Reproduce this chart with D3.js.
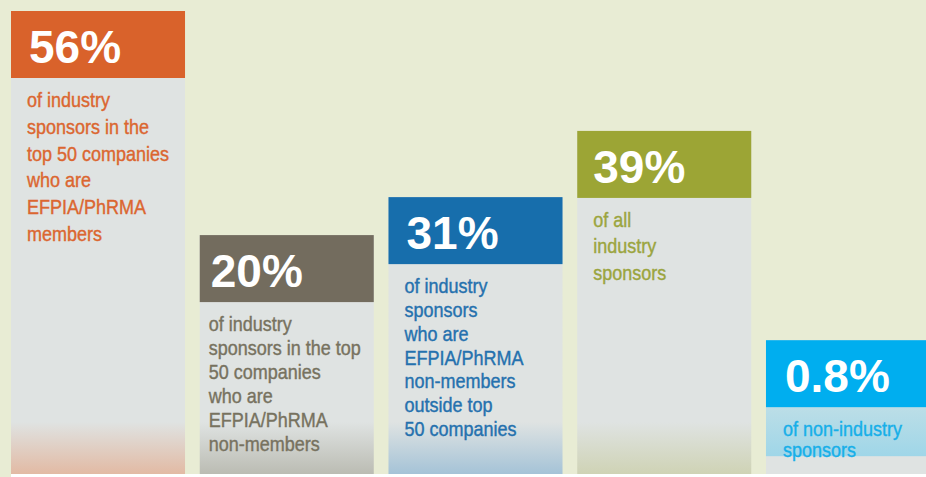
<!DOCTYPE html>
<html>
<head>
<meta charset="utf-8">
<script src="https://cdn.jsdelivr.net/npm/d3@7"></script>
<style>
  html, body { margin: 0; padding: 0; background: #e8ecd4; }
  svg { display: block; }
</style>
</head>
<body>
<script>
// share of sponsors, as printed on each bar
const categories = ["top50Members", "top50NonMembers", "nonMembersOutside", "allIndustry", "nonIndustry"];
const values = [56, 20, 31, 39, 0.8];
const valueLabels = ["56%", "20%", "31%", "39%", "0.8%"];
// bar heights of the infographic (not to scale with the values), % of the plot height
const barHeights = [100, 51.6, 59.8, 74.1, 28.9];
const descriptions = [
  ["of industry", "sponsors in the", "top 50 companies", "who are", "EFPIA/PhRMA", "members"],
  ["of industry", "sponsors in the top", "50 companies", "who are", "EFPIA/PhRMA", "non-members"],
  ["of industry", "sponsors", "who are", "EFPIA/PhRMA", "non-members", "outside top", "50 companies"],
  ["of all", "industry", "sponsors"],
  ["of non-industry", "sponsors"]
];

// styling, one entry per bar
const headColors = ["#d9622b", "#736c5e", "#176eac", "#9ca535", "#00aeef"];
const textColors = ["#db6630", "#77725f", "#2571ae", "#9ba53e", "#17afe8"];
const fadeColors = ["#e2baa4", "#bbbcb3", "#a5c3d7", "#cfd3b5", "#dfe3e2"];
const lineGaps = [26.8, 24, 23.8, 26.5, 21];
const headInset = [18, 11, 18, 16, 19];
const textInset = [16, 9, 16, 16, 17];

const W = 926, H = 477;
const plotTop = 11, plotBottom = 474, headH = 67;

const svg = d3.select("body").append("svg").attr("width", W).attr("height", H);

const x = d3.scaleBand().domain(categories).range([11, 940]).paddingInner(0.078).paddingOuter(0);
const y = d3.scaleLinear().domain([0, 100]).range([plotBottom, plotTop]);

const defs = svg.append("defs");
categories.forEach((c, i) => {
  const g = defs.append("linearGradient")
    .attr("id", "fade" + i)
    .attr("gradientUnits", "userSpaceOnUse")
    .attr("x1", 0).attr("x2", 0).attr("y1", 422).attr("y2", plotBottom);
  g.append("stop").attr("offset", 0).attr("stop-color", "#dfe3e2");
  g.append("stop").attr("offset", 1).attr("stop-color", fadeColors[i]);
});
const band = defs.append("linearGradient").attr("id", "band")
  .attr("x1", 0).attr("x2", 0).attr("y1", 0).attr("y2", 1);
band.append("stop").attr("offset", 0).attr("stop-color", "#bcdee7");
band.append("stop").attr("offset", 1).attr("stop-color", "#9fd6e8");

const bars = svg.selectAll("g.bar")
  .data(categories)
  .join("g")
  .attr("class", "bar")
  .attr("transform", d => `translate(${x(d)},0)`);

// body
bars.append("rect")
  .attr("y", (d, i) => y(barHeights[i]))
  .attr("width", x.bandwidth())
  .attr("height", (d, i) => plotBottom - y(barHeights[i]))
  .attr("fill", (d, i) => `url(#fade${i})`);

// light blue band under the smallest bar's header
bars.filter((d, i) => i === 4).append("rect")
  .attr("y", y(barHeights[4]) + headH)
  .attr("width", x.bandwidth())
  .attr("height", 49)
  .attr("fill", "url(#band)");

// header
bars.append("rect")
  .attr("y", (d, i) => y(barHeights[i]))
  .attr("width", x.bandwidth())
  .attr("height", headH)
  .attr("fill", (d, i) => headColors[i]);

bars.append("text")
  .attr("x", (d, i) => headInset[i])
  .attr("y", (d, i) => y(barHeights[i]) + 52)
  .attr("fill", "#fff")
  .style("font-family", "'Liberation Sans', Arial, sans-serif")
  .style("font-weight", "bold")
  .style("font-size", "46px")
  .text((d, i) => valueLabels[i]);

// description lines
bars.each(function (d, i) {
  const g = d3.select(this);
  const y0 = y(barHeights[i]) + headH + 29;
  g.selectAll("text.desc")
    .data(descriptions[i])
    .join("text")
    .attr("class", "desc")
    .attr("transform", (t, j) => `translate(${textInset[i]},${y0 + j * lineGaps[i]}) scale(0.9,1)`)
    .attr("fill", textColors[i])
    .attr("stroke", textColors[i])
    .attr("stroke-width", 0.4)
    .style("font-family", "'Liberation Sans', Arial, sans-serif")
    .style("font-size", "20px")
    .text(t => t);
});

// white strip along the bottom
svg.append("rect")
  .attr("x", 11).attr("y", plotBottom)
  .attr("width", W - 11).attr("height", H - plotBottom)
  .attr("fill", "#ffffff");
</script>
</body>
</html>
